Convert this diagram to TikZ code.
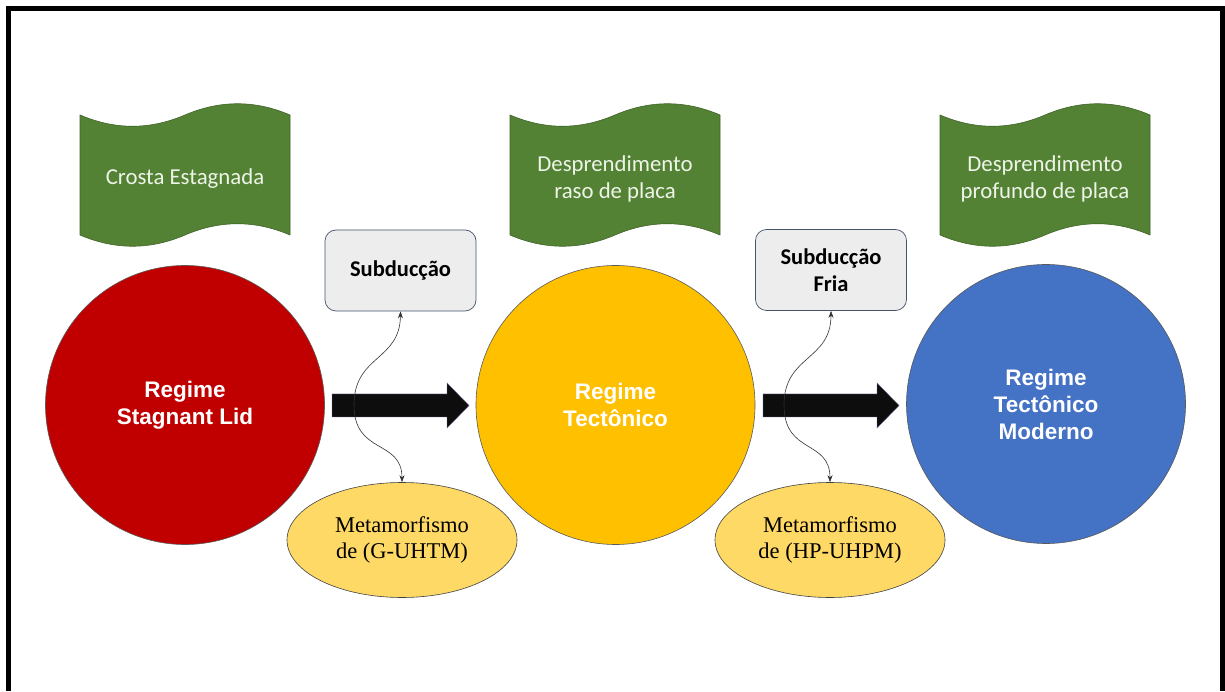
\documentclass[tikz,border=0pt]{standalone}
\usepackage{fontspec}
\setmainfont{Liberation Serif}
\newfontfamily\arialf{Liberation Sans}
\newfontfamily\calibf{Carlito}
\usetikzlibrary{shapes.geometric,arrows.meta}
\definecolor{cred}{HTML}{C00000}
\definecolor{cyel}{HTML}{FFC000}
\definecolor{cblue}{HTML}{4472C4}
\definecolor{cgreen}{HTML}{548235}
\definecolor{cgreenb}{HTML}{3E6327}
\definecolor{cgold}{HTML}{FFD966}
\definecolor{cbox}{HTML}{EDEDED}
\definecolor{cboxb}{HTML}{44546A}
\definecolor{cflagtxt}{HTML}{EEF4E8}
\newcommand\flagat[1]{%
  \begin{scope}[shift={(#1)}]
    \path[flagshape] (0,0) .. controls (35,-15) and (70,-15) .. (105,0)
      .. controls (140,15) and (175,15) .. (210,0) -- (210,-120)
      .. controls (175,-105) and (140,-105) .. (105,-120)
      .. controls (70,-135) and (35,-135) .. (0,-120) -- cycle;
  \end{scope}}
\begin{document}
\begin{tikzpicture}[x=1pt,y=1pt,
  flagshape/.style={fill=cgreen,draw=cgreenb,line width=0.6pt},
  flagtext/.style={align=center,text=cflagtxt,font=\calibf\fontsize{22.8}{27}\selectfont},
  regime/.style={circle,minimum size=279pt,inner sep=0pt,draw=black!65,line width=0.6pt,
     text=white,align=center,font=\arialf\bfseries\fontsize{22.5}{27}\selectfont},
  subbox/.style={rectangle,rounded corners=11pt,fill=cbox,draw=cboxb,line width=0.7pt,
     minimum width=151pt,minimum height=81pt,inner sep=0pt,align=center,
     font=\calibf\bfseries\fontsize{22.5}{27}\selectfont},
  meta/.style={ellipse,fill=cgold,draw=black!75,line width=0.6pt,minimum width=230pt,
     minimum height=115pt,inner sep=0pt,align=center,font=\fontsize{22.5}{26}\selectfont},
  bigarrow/.style={fill=black!95,draw=black!70!blue!60,line width=0.4pt},
  link/.style={line width=0.6pt,black!80,-{Stealth[length=7pt,width=5pt]}}
]
\useasboundingbox (0,0) rectangle (1225,691);
\fill[white] (0,0) rectangle (1225,691);
\draw[line width=5pt] (8.5,0) -- (8.5,682.5) -- (1222.5,682.5) -- (1222.5,0);

% banners
\flagat{80,576}
\flagat{510,576}
\flagat{940,576}
\node[flagtext] (b1) at (185,512) {Crosta Estagnada};
\node[flagtext] (b2) at (615,512) {Desprendimento\\raso de placa};
\node[flagtext] (b3) at (1045,512) {Desprendimento\\profundo de placa};

% circles
\node[regime,fill=cred] (r1) at (185,286) {Regime\\Stagnant Lid};
\node[regime,fill=cyel] (r2) at (615.5,286) {Regime\\Tectônico};
\node[regime,fill=cblue] (r3) at (1046,287) {Regime\\Tectônico\\Moderno};

% big arrows
\path[bigarrow] (332,297) -- (447,297) -- (447,308) -- (469,285.5) -- (447,263)
  -- (447,274) -- (332,274) -- cycle;
\path[bigarrow] (763,297) -- (877,297) -- (877,308) -- (899,285.5) -- (877,263)
  -- (877,274) -- (763,274) -- cycle;

% boxes
\node[subbox] (s1) at (400.5,420.5) {Subducção};
\node[subbox] (s2) at (831,421) {Subducção\\Fria};

% ellipses
\node[meta] (m1) at (402,151) {Metamorfismo\\de (G-UHTM)};
\node[meta] (m2) at (830,151) {Metamorfismo\\de (HP-UHPM)};

% curved links
\coordinate (k1) at (354,286);
\coordinate (k2) at (784,286);
\draw[link] (k1) .. controls (354,336) and (400,330) .. (s1.south);
\draw[link] (k1) .. controls (354,236) and (402,252) .. (m1.north);
\draw[link] (k2) .. controls (784,336) and (831,330) .. (s2.south);
\draw[link] (k2) .. controls (784,236) and (830,252) .. (m2.north);
\end{tikzpicture}
\end{document}
